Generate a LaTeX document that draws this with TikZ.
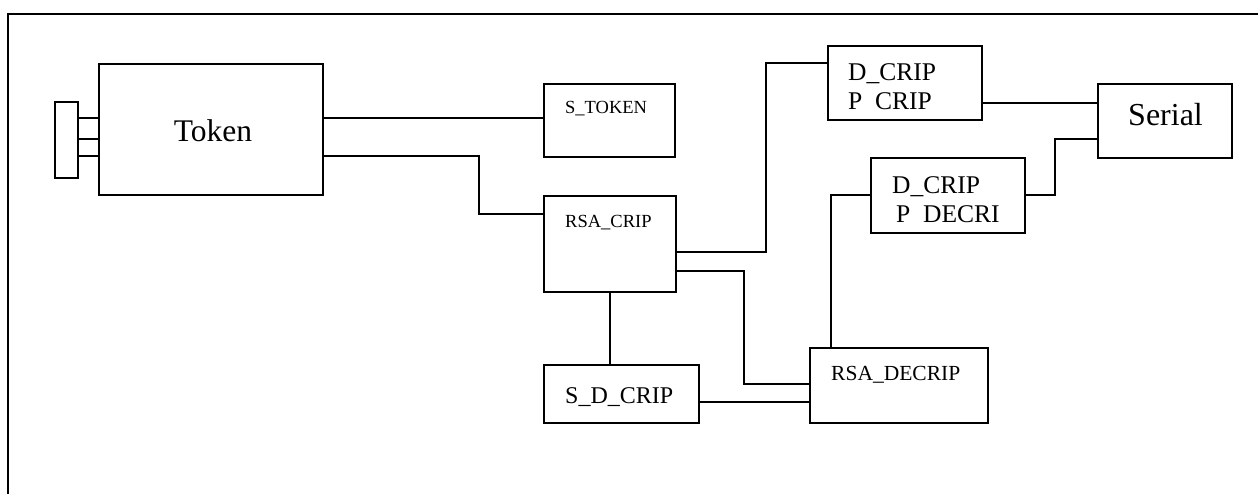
\documentclass[tikz,border=0pt]{standalone}
\usepackage{fontspec}
\setmainfont{Liberation Serif}
\begin{document}
\begin{tikzpicture}[x=1pt,y=-1pt,
  box/.style={draw,line width=1.8pt,inner sep=0pt,rectangle},
  wire/.style={line width=1.8pt},
  lbl/.style={inner sep=0pt,anchor=base west}]
\useasboundingbox (0,0) rectangle (1258,494);
% outer frame (top and left edges)
\draw[wire] (8,494) -- (8,14) -- (1258,14);

% blocks
\node[box,minimum width=23pt,minimum height=76pt]  (plug)      at (66.5,140) {};
\node[box,minimum width=224pt,minimum height=131pt](token)     at (211,129.5) {};
\node[box,minimum width=131pt,minimum height=73pt] (stoken)    at (609.5,120.5) {};
\node[box,minimum width=132pt,minimum height=96pt] (rsacrip)   at (610,244) {};
\node[box,minimum width=155pt,minimum height=58pt] (sdcrip)    at (621.5,394) {};
\node[box,minimum width=178pt,minimum height=75pt] (rsadecrip) at (899,385.5) {};
\node[box,minimum width=154pt,minimum height=74pt] (pcrip)     at (905,83) {};
\node[box,minimum width=154pt,minimum height=75pt] (pdecri)    at (948,195.5) {};
\node[box,minimum width=134pt,minimum height=74pt] (serial)    at (1165,121) {};

% labels
\node[font=\fontsize{31.5}{31.5}\selectfont,inner sep=0pt] (ttoken) at (213,131) {Token};
\node[lbl,font=\fontsize{18.5}{18.5}\selectfont] (tstoken) at (565,114) {S\_TOKEN};
\node[lbl,font=\fontsize{18.5}{18.5}\selectfont] (trsacrip) at (565,228) {RSA\_CRIP};
\node[lbl,font=\fontsize{24}{24}\selectfont] (tsdcrip) at (565,403) {S\_D\_CRIP};
\node[lbl,font=\fontsize{21.5}{21.5}\selectfont] (trsadecrip) at (831,380) {RSA\_DECRIP};
\node[lbl,font=\fontsize{25.5}{25.5}\selectfont] (tpcripa) at (848,81) {D\_CRIP};
\node[lbl,font=\fontsize{25.5}{25.5}\selectfont] (tpcripb) at (848,110) {P\phantom{\_}CRIP};
\node[lbl,font=\fontsize{25.5}{25.5}\selectfont] (tpdecria) at (892,194) {D\_CRIP};
\node[lbl,font=\fontsize{25.5}{25.5}\selectfont] (tpdecrib) at (896,223) {P\phantom{\_}DECRI};
\node[lbl,font=\fontsize{32}{32}\selectfont] (tserial) at (1128,126) {Serial};

% anchor points on block edges
\coordinate (p1) at ([yshift=-17pt]plug.north east);
\coordinate (p2) at ([yshift=-38pt]plug.north east);
\coordinate (p3) at ([yshift=-55pt]plug.north east);
\coordinate (k1) at ([yshift=-55pt]token.north east);
\coordinate (k2) at ([yshift=-93pt]token.north east);
\coordinate (r1) at ([yshift=-19pt]rsacrip.north west);
\coordinate (r2) at ([yshift=-57pt]rsacrip.north east);
\coordinate (r3) at ([yshift=-76pt]rsacrip.north east);
\coordinate (c1) at ([yshift=-18pt]pcrip.north west);
\coordinate (c2) at ([yshift=-58pt]pcrip.north east);
\coordinate (d1) at ([yshift=-38pt]pdecri.north west);
\coordinate (d2) at ([yshift=-38pt]pdecri.north east);
\coordinate (s1) at ([yshift=-20pt]serial.north west);
\coordinate (s2) at ([yshift=-56pt]serial.north west);
\coordinate (e1) at ([yshift=-37pt]rsadecrip.north west);
\coordinate (e3) at ([xshift=22pt]rsadecrip.north west);
\coordinate (q1) at ([yshift=-38pt]sdcrip.north east);

% connectors
\draw[wire] (p1) -- (p1 -| token.west);
\draw[wire] (p2) -- (p2 -| token.west);
\draw[wire] (p3) -- (p3 -| token.west);
\draw[wire] (k1) -- (k1 -| stoken.west);
\draw[wire] (k2) -- ++(155,0) |- (r1);
\draw[wire] (r2) -- ++(89,0) |- (c1);
\draw[wire] (r3) -- ++(67,0) |- (e1);
\draw[wire] (rsacrip.south) -- (rsacrip.south |- sdcrip.north);
\draw[wire] (q1) -- (q1 -| rsadecrip.west);
\draw[wire] (e3) |- (d1);
\draw[wire] (c2) -- (c2 -| serial.west);
\draw[wire] (d2) -- ++(29,0) |- (s2);
\end{tikzpicture}
\end{document}
